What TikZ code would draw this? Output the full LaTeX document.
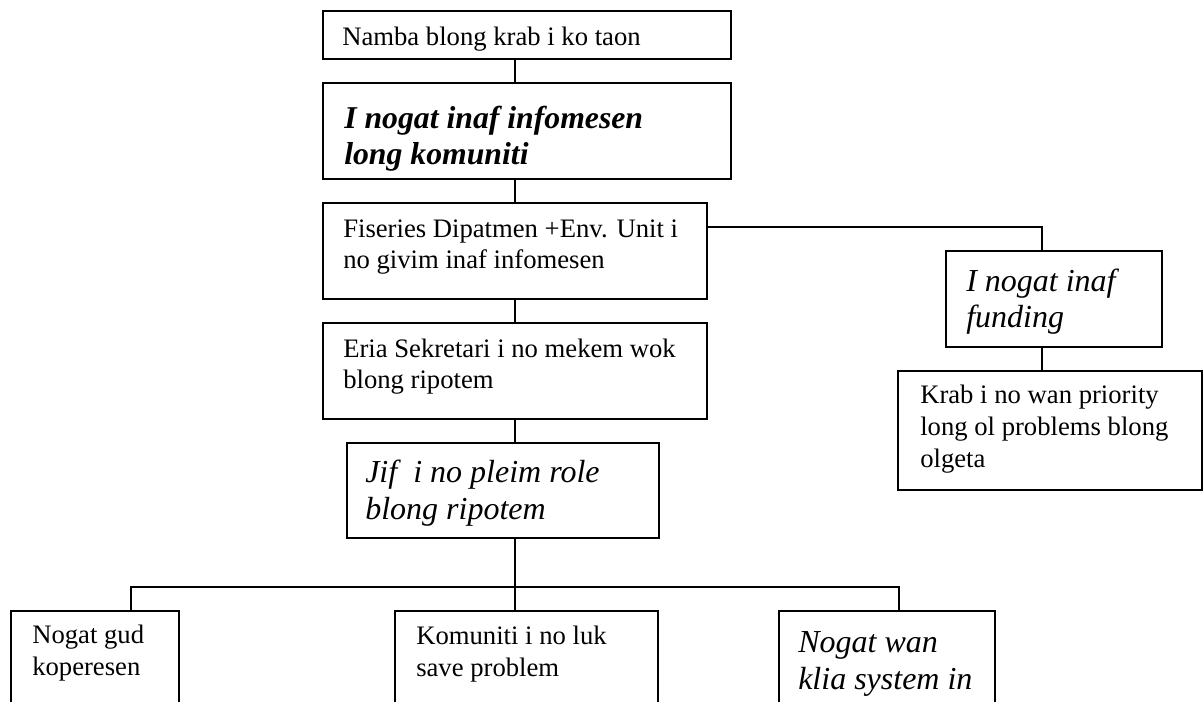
\documentclass[tikz,border=0pt]{standalone}
\usepackage{fontspec}
\setmainfont{Liberation Serif}
\usetikzlibrary{fit}
\begin{document}
\begin{tikzpicture}[x=0.75pt,y=-0.75pt,
  box/.style={draw, line width=1.2pt, inner sep=0pt},
  thickbox/.style={box, line width=2.1pt},
  % text nodes are placed by the baseline of their last line
  txt/.style={anchor=base west, align=left, inner sep=0pt,
    font=\fontsize{20}{23.8}\selectfont},
  itxt/.style={txt, font=\fontsize{24}{27.7}\selectfont\itshape},
  bitxt/.style={txt, font=\fontsize{23.8}{27.7}\selectfont\bfseries\itshape},
  link/.style={line width=1.2pt}]
\path[use as bounding box, clip] (0,0) rectangle (1204,702);

% main column
\node[box, fit={(323,11) (731,59)}] (b1) {};
\node[txt] (t1) at (342,46) {Namba blong krab i ko taon};

\node[thickbox, fit={(323,83) (731,179)}] (b2) {};
\node[bitxt] (t2) at (344,165) {I nogat inaf infomesen\\long komuniti};

\node[box, fit={(323,203) (707,299)}] (b3) {};
\node[txt] (t3) at (343,269) {Fiseries Dipatmen +Env. Unit i\\no givim inaf infomesen};

\node[box, fit={(323,323) (707,419)}] (b4) {};
\node[txt] (t4) at (343,389) {Eria Sekretari i no mekem wok\\blong ripotem};

\node[box, fit={(347,443) (659,538)}] (b5) {};
\node[itxt] (t5) at (365,519) {Jif~ i no pleim role\\blong ripotem};

% right branch
\node[box, fit={(946,251) (1162,347)}] (f) {};
\node[itxt] (tf) at (966,328) {I nogat inaf\\funding};

\node[box, fit={(898,371) (1202,490)}] (k) {};
\node[txt] (tk) at (920,467) {Krab i no wan priority\\long ol problems blong\\olgeta};

% bottom row
\node[box, fit={(11,611) (179,760)}] (n1) {};
\node[txt] (tn1) at (32,675) {Nogat gud\\koperesen};

\node[box, fit={(395,611) (658,760)}] (n2) {};
\node[txt] (tn2) at (416,676) {Komuniti i no luk\\save problem};

\node[box, fit={(779,611) (995,760)}] (n3) {};
\node[itxt] (tn3) at (798,689) {Nogat wan\\klia system in};

% connectors
\coordinate (spine) at (515,0);
\coordinate (rx) at (1042,227);
\coordinate (bus) at (0,587);
\coordinate (lx) at (131,0);
\coordinate (rr) at (899,0);

\draw[link] (b1.south -| spine) -- (b2.north -| spine);
\draw[link] (b2.south -| spine) -- (b3.north -| spine);
\draw[link] (b3.south -| spine) -- (b4.north -| spine);
\draw[link] (b4.south -| spine) -- (b5.north -| spine);
\draw[link] (b3.east |- rx) -- (rx) -- (f.north -| rx);
\draw[link] (f.south -| rx) -- (k.north -| rx);
\draw[link] (b5.south -| spine) -- (n2.north -| spine);
\draw[link] (n1.north -| lx) -- (lx |- bus) -- (rr |- bus) -- (n3.north -| rr);
\end{tikzpicture}
\end{document}
